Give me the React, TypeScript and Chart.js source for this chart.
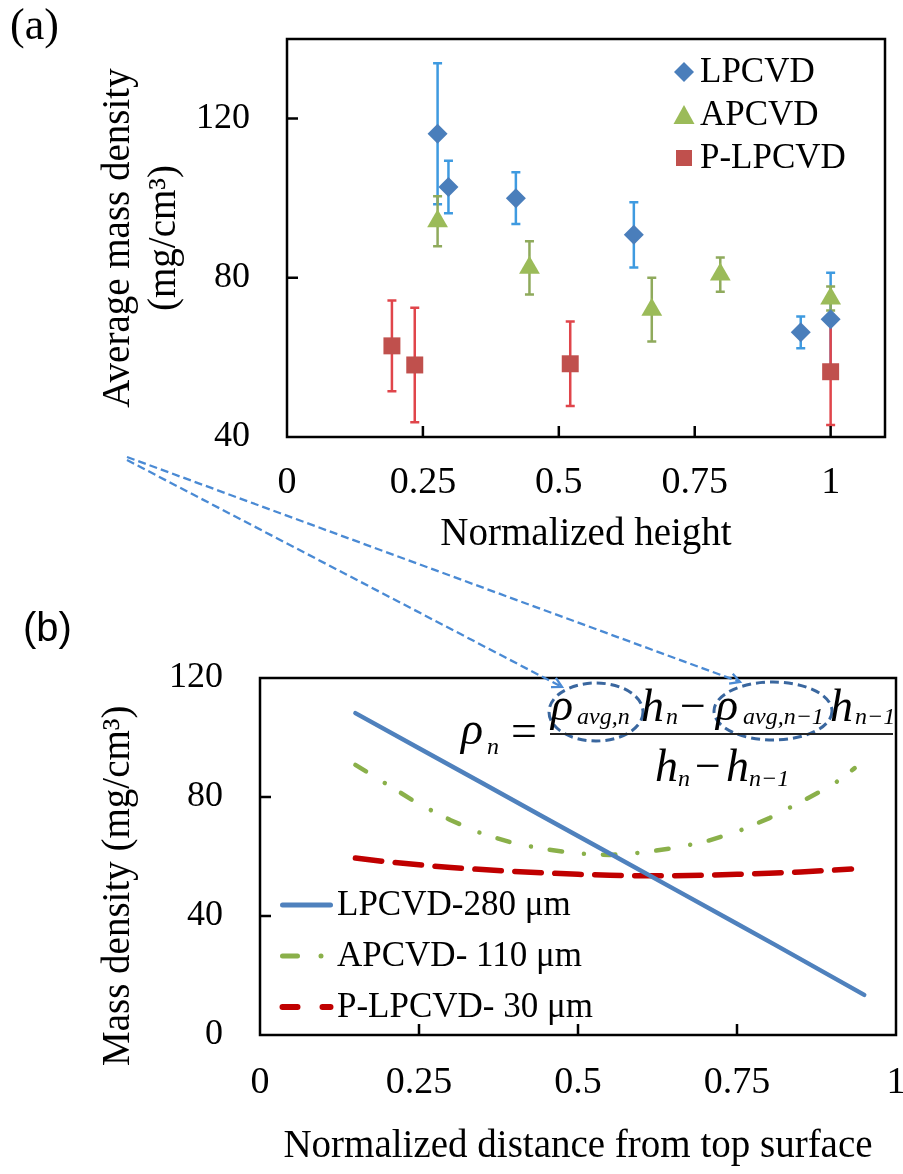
import React, { useEffect, useRef } from 'react';
import { Chart, registerables } from 'chart.js';

Chart.register(...registerables);

const SERIF = "'Liberation Serif', 'Times New Roman', Times, serif";
const SANS = "'Liberation Sans', Arial, sans-serif";

// ---------- Panel (a): average mass density vs normalized height ----------
const seriesA = ['LPCVD', 'APCVD', 'P-LPCVD'];

const lpcvdHeight = [0.277, 0.297, 0.421, 0.638, 0.945, 1.0];
const lpcvdDensity = [116.2, 102.8, 100.0, 90.8, 66.3, 69.6];
const lpcvdError = [17.7, 6.6, 6.5, 8.2, 4.0, 11.7];

const apcvdHeight = [0.277, 0.446, 0.671, 0.797, 1.0];
const apcvdDensity = [94.2, 82.5, 72.0, 80.8, 74.8];
const apcvdError = [6.3, 6.7, 8.0, 4.3, 3.0];

const plpcvdHeight = [0.193, 0.235, 0.521, 1.0];
const plpcvdDensity = [62.9, 58.1, 58.4, 56.4];
const plpcvdError = [11.4, 14.4, 10.6, 13.4];

const xTicksA = [0, 0.25, 0.5, 0.75, 1];
const yTicksA = [40, 80, 120];

// ---------- Panel (b): mass density vs normalized distance from top ----------
const seriesB = ['LPCVD-280 μm', 'APCVD- 110 μm', 'P-LPCVD- 30 μm'];

const lpcvdDist = [0.15, 0.25, 0.35, 0.45, 0.55, 0.65, 0.75, 0.81, 0.95];
const lpcvdDens = [108.2, 96.4, 84.6, 72.8, 61.0, 49.2, 37.4, 30.3, 13.5];

const apcvdDist = [0.15, 0.2, 0.25, 0.3, 0.35, 0.4, 0.45, 0.5, 0.55, 0.6, 0.65, 0.7, 0.75, 0.8, 0.85, 0.9, 0.935];
const apcvdDens = [90.8, 84.2, 77.6, 72.2, 67.6, 64.4, 62.4, 61.0, 60.5, 61.3, 62.8, 65.0, 68.3, 72.8, 78.3, 84.0, 89.7];

const plpcvdDist = [0.15, 0.2, 0.25, 0.3, 0.35, 0.4, 0.45, 0.5, 0.55, 0.6, 0.65, 0.7, 0.75, 0.8, 0.85, 0.93];
const plpcvdDens = [59.5, 58.2, 57.2, 56.3, 55.6, 55.0, 54.5, 54.0, 53.7, 53.5, 53.5, 53.7, 54.0, 54.4, 54.8, 55.8];

const xTicksB = [0, 0.25, 0.5, 0.75, 1];
const yTicksB = [0, 40, 80, 120];

// ---------------------------------------------------------------------------

const pts = (xs: number[], ys: number[]) => xs.map((x, i) => ({ x, y: ys[i] }));

const yTickFont = { family: SERIF, size: 36, lineHeight: 1.2 };
const xTickFont = { family: SERIF, size: 38, lineHeight: 1.2 };
const titleFont = { family: SERIF, size: 39, lineHeight: 1.18 };
const noGrid = { display: false, drawTicks: false, tickLength: 0 };

function frameAndTicks(xTicks: number[], yTicks: number[]) {
  return {
    id: 'frameAndTicks',
    afterDatasetsDraw(chart: any) {
      const { ctx, chartArea: a, scales } = chart;
      const x = scales.x;
      const y = scales.y;
      ctx.save();
      ctx.strokeStyle = '#000';
      ctx.lineWidth = 2.5;
      ctx.strokeRect(a.left, a.top, a.right - a.left, a.bottom - a.top);
      ctx.beginPath();
      xTicks.forEach((v) => {
        const px = x.getPixelForValue(v);
        if (px - a.left > 3 && a.right - px > 3) {
          ctx.moveTo(px, a.bottom);
          ctx.lineTo(px, a.bottom - 11);
        }
      });
      yTicks.forEach((v) => {
        const py = y.getPixelForValue(v);
        if (a.bottom - py > 3 && py - a.top > 3) {
          ctx.moveTo(a.left, py);
          ctx.lineTo(a.left + 11, py);
        }
      });
      ctx.stroke();
      ctx.restore();
    },
  };
}

const errorsA = [lpcvdError, apcvdError, plpcvdError];
const errColorsA = ['#3E9AE0', '#8FAA5C', '#E0454B'];

const errorBars = {
  id: 'errorBars',
  beforeDatasetsDraw(chart: any) {
    const { ctx, scales } = chart;
    const xs = scales.x;
    const ys = scales.y;
    chart.data.datasets.forEach((ds: any, i: number) => {
      const errs = errorsA[i];
      ctx.save();
      ctx.strokeStyle = errColorsA[i];
      ctx.lineWidth = 2.5;
      ds.data.forEach((p: any, j: number) => {
        const x = xs.getPixelForValue(p.x);
        const yt = ys.getPixelForValue(p.y + errs[j]);
        const yb = ys.getPixelForValue(p.y - errs[j]);
        ctx.beginPath();
        ctx.moveTo(x, yt);
        ctx.lineTo(x, yb);
        ctx.moveTo(x - 4.5, yt);
        ctx.lineTo(x + 4.5, yt);
        ctx.moveTo(x - 4.5, yb);
        ctx.lineTo(x + 4.5, yb);
        ctx.stroke();
      });
      ctx.restore();
    });
  },
};

function drawMarker(ctx: CanvasRenderingContext2D, kind: string, cx: number, cy: number, color: string) {
  ctx.fillStyle = color;
  ctx.beginPath();
  if (kind === 'rectRot') {
    ctx.moveTo(cx, cy - 10);
    ctx.lineTo(cx + 10, cy);
    ctx.lineTo(cx, cy + 10);
    ctx.lineTo(cx - 10, cy);
  } else if (kind === 'triangle') {
    ctx.moveTo(cx, cy - 10);
    ctx.lineTo(cx + 10.5, cy + 9);
    ctx.lineTo(cx - 10.5, cy + 9);
  } else {
    ctx.rect(cx - 8, cy - 8, 16, 16);
  }
  ctx.closePath();
  ctx.fill();
}

const legendA = {
  id: 'legendA',
  afterDatasetsDraw(chart: any) {
    const { ctx, chartArea: a } = chart;
    ctx.save();
    chart.data.datasets.forEach((ds: any, i: number) => {
      const cx = a.right - 201;
      const cy = a.top + 33 + i * 43;
      drawMarker(ctx, ds.pointStyle, cx, cy, ds.backgroundColor);
      ctx.fillStyle = '#000';
      ctx.font = `35px ${SERIF}`;
      ctx.textAlign = 'left';
      ctx.textBaseline = 'middle';
      ctx.fillText(ds.label, cx + 16, cy + 1);
    });
    ctx.restore();
  },
};

const legendB = {
  id: 'legendB',
  afterDatasetsDraw(chart: any) {
    const { ctx, chartArea: a } = chart;
    ctx.save();
    const x0 = a.left + 20;
    chart.data.datasets.forEach((ds: any, i: number) => {
      const cy = a.top + 227 + i * 51;
      ctx.strokeStyle = ds.borderColor;
      ctx.lineWidth = ds.borderWidth + 0.5;
      ctx.lineCap = 'round';
      ctx.setLineDash([]);
      ctx.beginPath();
      if (i === 0) {
        ctx.moveTo(x0 + 2.5, cy);
        ctx.lineTo(x0 + 50.5, cy);
      } else if (i === 1) {
        ctx.moveTo(x0 + 2.5, cy);
        ctx.lineTo(x0 + 17.5, cy);
        ctx.moveTo(x0 + 41, cy);
        ctx.lineTo(x0 + 41.01, cy);
      } else {
        ctx.moveTo(x0 + 2.5, cy);
        ctx.lineTo(x0 + 17.5, cy);
        ctx.moveTo(x0 + 42.5, cy);
        ctx.lineTo(x0 + 50.5, cy);
      }
      ctx.stroke();
      ctx.fillStyle = '#000';
      ctx.font = `35px ${SERIF}`;
      ctx.textAlign = 'left';
      ctx.textBaseline = 'middle';
      ctx.fillText(ds.label, x0 + 57, cy + 1);
    });
    ctx.restore();
  },
};

function makeConfigA(): any {
  return {
    type: 'scatter',
    data: {
      datasets: [
        { label: seriesA[0], data: pts(lpcvdHeight, lpcvdDensity), pointStyle: 'rectRot', pointRadius: 10, backgroundColor: '#4A7EBB', borderColor: '#4A7EBB', pointBorderWidth: 0 },
        { label: seriesA[1], data: pts(apcvdHeight, apcvdDensity), pointStyle: 'triangle', pointRadius: 12, backgroundColor: '#9BBB59', borderColor: '#9BBB59', pointBorderWidth: 0 },
        { label: seriesA[2], data: pts(plpcvdHeight, plpcvdDensity), pointStyle: 'rect', pointRadius: 12, backgroundColor: '#C0504D', borderColor: '#C0504D', pointBorderWidth: 0 },
      ],
    },
    options: {
      animation: false,
      responsive: false,
      devicePixelRatio: 1,
      layout: { padding: { left: 0, top: 39, right: 18, bottom: 0 } },
      plugins: { legend: { display: false }, tooltip: { enabled: false } },
      scales: {
        x: {
          type: 'linear', min: 0, max: 1.1,
          grid: noGrid, border: { display: false },
          afterBuildTicks: (s: any) => { s.ticks = xTicksA.map((value) => ({ value })); },
          afterFit: (s: any) => { s.height = 123; s.paddingLeft = 0; s.paddingRight = 0; },
          ticks: { color: '#000', font: xTickFont, padding: 23, maxRotation: 0, autoSkip: false, callback: (v: any) => String(v) },
          title: { display: true, text: 'Normalized height', color: '#000', font: titleFont, padding: { top: 0, bottom: 2 } },
        },
        y: {
          type: 'linear', min: 40, max: 140,
          grid: noGrid, border: { display: false },
          afterBuildTicks: (s: any) => { s.ticks = yTicksA.map((value) => ({ value })); },
          afterFit: (s: any) => { s.width = 287; s.paddingTop = 0; s.paddingBottom = 0; },
          ticks: { color: '#000', font: yTickFont, padding: 37, autoSkip: false, callback: (v: any) => String(v) },
          title: { display: true, text: ['Average mass density', '(mg/cm³)'], color: '#000', font: titleFont, padding: { top: 96, bottom: 0 } },
        },
      },
    },
    plugins: [errorBars, frameAndTicks(xTicksA, yTicksA), legendA],
  };
}

function makeConfigB(): any {
  return {
    type: 'line',
    data: {
      datasets: [
        { label: seriesB[0], data: pts(lpcvdDist, lpcvdDens), borderColor: '#4F81BD', borderWidth: 4.5, pointRadius: 0, fill: false, borderCapStyle: 'round', borderJoinStyle: 'round' },
        { label: seriesB[1], data: pts(apcvdDist, apcvdDens), borderColor: '#8AB04A', borderWidth: 4.5, pointRadius: 0, fill: false, borderCapStyle: 'round', borderJoinStyle: 'round', borderDash: [12.5, 22, 0.01, 19] },
        { label: seriesB[2], data: pts(plpcvdDist, plpcvdDens), borderColor: '#C00000', borderWidth: 5.5, pointRadius: 0, fill: false, borderCapStyle: 'round', borderJoinStyle: 'round', borderDash: [26.5, 13.5] },
      ],
    },
    options: {
      animation: false,
      responsive: false,
      devicePixelRatio: 1,
      layout: { padding: { left: 0, top: 78, right: 7, bottom: 0 } },
      plugins: { legend: { display: false }, tooltip: { enabled: false } },
      scales: {
        x: {
          type: 'linear', min: 0, max: 1,
          grid: noGrid, border: { display: false },
          afterBuildTicks: (s: any) => { s.ticks = xTicksB.map((value) => ({ value })); },
          afterFit: (s: any) => { s.height = 139; s.paddingLeft = 0; s.paddingRight = 0; },
          ticks: { color: '#000', font: xTickFont, padding: 25, maxRotation: 0, autoSkip: false, callback: (v: any) => String(v) },
          title: { display: true, text: 'Normalized distance from top surface', color: '#000', font: titleFont, padding: { top: 0, bottom: 4 } },
        },
        y: {
          type: 'linear', min: 0, max: 120,
          grid: noGrid, border: { display: false },
          afterBuildTicks: (s: any) => { s.ticks = yTicksB.map((value) => ({ value })); },
          afterFit: (s: any) => { s.width = 260; s.paddingTop = 0; s.paddingBottom = 0; },
          ticks: { color: '#000', font: yTickFont, padding: 37, autoSkip: false, callback: (v: any) => String(v) },
          // trailing no-break spaces nudge the centred title down to where the reference has it
          title: { display: true, text: 'Mass density (mg/cm³)\u00A0\u00A0\u00A0\u00A0\u00A0\u00A0', color: '#000', font: titleFont, padding: { top: 96, bottom: 0 } },
        },
      },
    },
    plugins: [frameAndTicks(xTicksB, yTicksB), legendB],
  };
}

function chevron(x1: number, y1: number, x2: number, y2: number, len = 11, spread = 0.5) {
  const a = Math.atan2(y2 - y1, x2 - x1);
  const p1 = [x2 - len * Math.cos(a - spread), y2 - len * Math.sin(a - spread)];
  const p2 = [x2 - len * Math.cos(a + spread), y2 - len * Math.sin(a + spread)];
  return `${p1[0]},${p1[1]} ${x2},${y2} ${p2[0]},${p2[1]}`;
}

// equation glyph layout (page px): text, left, baseline, size, italic
const eqPieces: [string, number, number, number, boolean][] = [
  ['ρ', 461, 745, 46, true],
  ['n', 487, 754, 24, true],
  ['=', 511, 747, 46, false],
  ['ρ', 551, 721, 46, true],
  ['avg,n', 577, 724, 24, true],
  ['h', 641, 722, 46, true],
  ['n', 666, 724, 24, true],
  ['−', 680, 722, 46, false],
  ['ρ', 716, 721, 46, true],
  ['avg,n−1', 743, 724, 24, true],
  ['h', 830, 722, 46, true],
  ['n−1', 855, 724, 24, true],
  ['h', 655, 782, 46, true],
  ['n', 678, 786, 24, true],
  ['−', 695, 782, 46, false],
  ['h', 726, 782, 46, true],
  ['n−1', 749, 786, 24, true],
];

export default function App() {
  const refA = useRef<HTMLCanvasElement>(null);
  const refB = useRef<HTMLCanvasElement>(null);

  useEffect(() => {
    const ca = new Chart(refA.current as HTMLCanvasElement, makeConfigA());
    const cb = new Chart(refB.current as HTMLCanvasElement, makeConfigB());
    return () => {
      ca.destroy();
      cb.destroy();
    };
  }, []);

  const arrow1 = { x1: 127, y1: 460, x2: 562, y2: 687 };
  const arrow2 = { x1: 127, y1: 457, x2: 740, y2: 682 };

  return (
    <div style={{ position: 'absolute', left: 0, top: 0, width: 903, height: 1174, background: '#fff', overflow: 'hidden' }}>
      <canvas ref={refA} width={903} height={560} style={{ position: 'absolute', left: 0, top: 0 }} />
      <canvas ref={refB} width={903} height={574} style={{ position: 'absolute', left: 0, top: 600 }} />
      <svg width={903} height={1174} style={{ position: 'absolute', left: 0, top: 0, pointerEvents: 'none' }}>
        <g stroke="#4A8AD4" strokeWidth={2.3} fill="none">
          <line x1={arrow1.x1} y1={arrow1.y1} x2={arrow1.x2} y2={arrow1.y2} strokeDasharray="8 4" />
          <line x1={arrow2.x1} y1={arrow2.y1} x2={arrow2.x2} y2={arrow2.y2} strokeDasharray="8 4" />
          <polyline points={chevron(arrow1.x1, arrow1.y1, arrow1.x2, arrow1.y2)} />
          <polyline points={chevron(arrow2.x1, arrow2.y1, arrow2.x2, arrow2.y2)} />
        </g>
        <g stroke="#3A679F" strokeWidth={3} fill="none" strokeDasharray="9 5">
          <ellipse cx={596} cy={712} rx={47} ry={29} />
          <ellipse cx={773} cy={711} rx={59} ry={29} />
        </g>
      </svg>
      <div style={{ position: 'absolute', left: 550, top: 733, width: 343, height: 2, background: '#222' }} />
      {eqPieces.map(([t, x, b, s, it], k) => (
        <span
          key={k}
          style={{
            position: 'absolute',
            left: x,
            top: b - 0.8375 * s,
            fontFamily: SERIF,
            fontSize: s,
            lineHeight: `${s}px`,
            fontStyle: it ? 'italic' : 'normal',
            whiteSpace: 'nowrap',
            color: '#000',
          }}
        >
          {t}
        </span>
      ))}
      <div style={{ position: 'absolute', left: 10, top: 3, fontFamily: SERIF, fontSize: 44, lineHeight: '44px', color: '#000' }}>(a)</div>
      <div style={{ position: 'absolute', left: 23, top: 607, fontFamily: SANS, fontSize: 40, lineHeight: '40px', color: '#000' }}>(b)</div>
    </div>
  );
}
